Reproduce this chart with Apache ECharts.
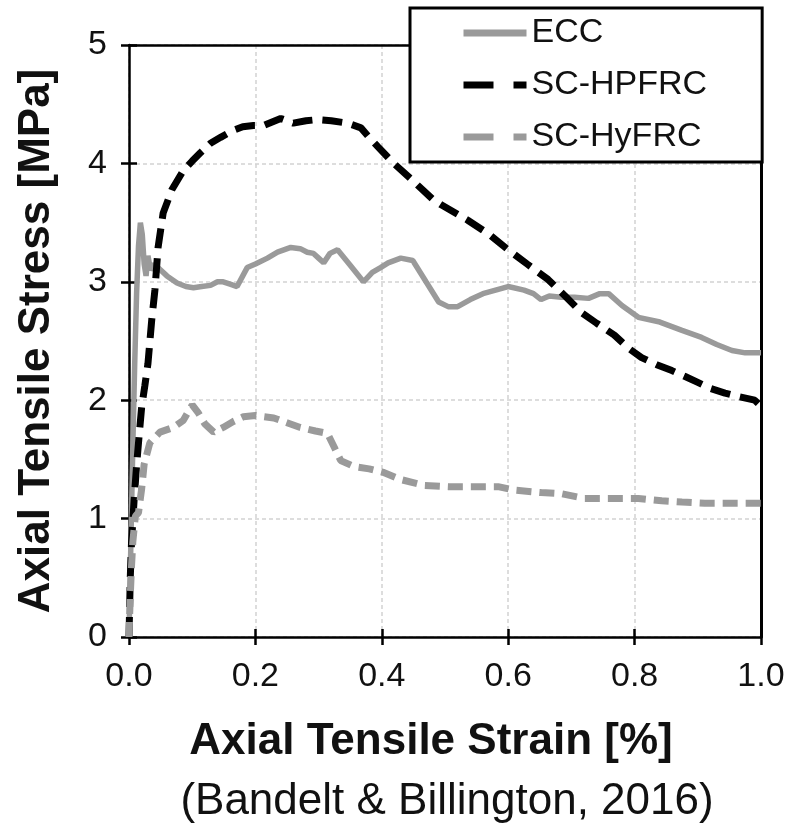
<!DOCTYPE html>
<html>
<head>
<meta charset="utf-8">
<script src="https://cdn.jsdelivr.net/npm/echarts@6/dist/echarts.min.js"></script>
<style>html,body{margin:0;padding:0;background:#fff}#c{width:791px;height:829px}</style>
</head>
<body>
<div id="c"></div>
<script>
// Axial tensile strain [%] vs stress [MPa]
const seriesNames = ['ECC', 'SC-HPFRC', 'SC-HyFRC'];
const xTicks = [0, 0.2, 0.4, 0.6, 0.8, 1.0];
const yTicks = [0, 1, 2, 3, 4, 5];

const eccData = [[0,0],[0.003,0.8],[0.006,1.6],[0.009,2.3],[0.012,2.9],[0.015,3.3],[0.018,3.5],[0.021,3.4],[0.024,3.15],[0.027,3.05],[0.03,3.22],[0.034,3.1],[0.04,3.15],[0.05,3.1],[0.06,3.05],[0.076,2.99],[0.09,2.96],[0.102,2.95],[0.115,2.96],[0.129,2.97],[0.14,3.0],[0.149,3.0],[0.16,2.98],[0.171,2.96],[0.18,3.05],[0.187,3.12],[0.2,3.15],[0.219,3.2],[0.235,3.25],[0.256,3.29],[0.271,3.28],[0.282,3.25],[0.292,3.24],[0.3,3.2],[0.308,3.16],[0.318,3.24],[0.33,3.27],[0.35,3.14],[0.371,3.0],[0.385,3.08],[0.398,3.12],[0.41,3.16],[0.43,3.2],[0.449,3.18],[0.47,3.0],[0.49,2.83],[0.505,2.79],[0.52,2.79],[0.54,2.85],[0.56,2.9],[0.58,2.93],[0.6,2.96],[0.625,2.93],[0.64,2.9],[0.652,2.85],[0.665,2.88],[0.684,2.87],[0.705,2.87],[0.727,2.86],[0.745,2.9],[0.759,2.9],[0.78,2.8],[0.806,2.7],[0.84,2.66],[0.875,2.59],[0.906,2.53],[0.93,2.47],[0.954,2.42],[0.975,2.4],[1.0,2.4]];

const hpfrcData = [[0,0],[0.002,0.5],[0.004,0.8],[0.008,1.15],[0.012,1.45],[0.016,1.7],[0.02,1.94],[0.025,2.12],[0.03,2.31],[0.036,2.68],[0.041,2.93],[0.046,3.29],[0.054,3.58],[0.068,3.78],[0.086,3.94],[0.1,4.02],[0.113,4.09],[0.129,4.17],[0.145,4.22],[0.165,4.28],[0.18,4.31],[0.197,4.32],[0.213,4.32],[0.24,4.38],[0.26,4.34],[0.28,4.36],[0.298,4.37],[0.32,4.36],[0.346,4.34],[0.367,4.3],[0.38,4.22],[0.394,4.14],[0.41,4.05],[0.419,4.0],[0.45,3.85],[0.48,3.7],[0.494,3.65],[0.536,3.52],[0.57,3.4],[0.6,3.27],[0.63,3.15],[0.663,3.02],[0.69,2.88],[0.716,2.74],[0.74,2.65],[0.768,2.55],[0.79,2.44],[0.811,2.36],[0.835,2.3],[0.859,2.25],[0.88,2.2],[0.9,2.15],[0.92,2.1],[0.943,2.06],[0.965,2.03],[0.99,2.0],[1.0,1.95]];

const hyfrcData = [[0,0],[0.002,0.35],[0.004,0.6],[0.006,0.8],[0.01,1.02],[0.015,1.05],[0.02,1.25],[0.024,1.46],[0.033,1.64],[0.049,1.73],[0.07,1.77],[0.086,1.83],[0.1,1.96],[0.11,1.89],[0.12,1.8],[0.134,1.73],[0.149,1.77],[0.165,1.82],[0.181,1.86],[0.2,1.87],[0.229,1.85],[0.25,1.81],[0.271,1.77],[0.295,1.74],[0.314,1.72],[0.325,1.6],[0.335,1.49],[0.356,1.44],[0.38,1.42],[0.403,1.39],[0.43,1.33],[0.467,1.28],[0.505,1.27],[0.541,1.27],[0.584,1.27],[0.61,1.24],[0.652,1.22],[0.684,1.21],[0.721,1.17],[0.768,1.17],[0.806,1.17],[0.843,1.15],[0.875,1.14],[0.911,1.13],[0.954,1.13],[1.0,1.13]];

const xTitle = 'Axial Tensile Strain [%]';
const yTitle = 'Axial Tensile Stress [MPa]';
const caption = '(Bandelt & Billington, 2016)';

const FONT = '"Liberation Sans", Arial, sans-serif';
const GRAY = '#9a9a9a';
const chart = echarts.init(document.getElementById('c'), null, {renderer: 'canvas'});

const rect = {left: 129, right: 30, top: 45, bottom: 192, outerBoundsMode: 'none', containLabel: false};
const xMin = xTicks[0], xMax = xTicks[xTicks.length - 1];
const yMin = yTicks[0], yMax = yTicks[yTicks.length - 1];

const splitLine = {show: true, lineStyle: {color: '#d2d2d2', width: 1.5, type: [4, 3]}};
const tickStyle = {color: '#000', width: 2.5};
const blankAxis = {axisLabel: {show: false}, splitLine: {show: false}};

chart.setOption({
  animation: false,
  backgroundColor: '#fff',
  grid: [Object.assign({show: false}, rect), Object.assign({show: false}, rect)],
  xAxis: [{
    gridIndex: 0, type: 'value', min: xMin, max: xMax, interval: 0.2, position: 'bottom',
    axisLine: {show: true, onZero: false, lineStyle: {color: '#000', width: 2.5}},
    axisTick: {show: true, length: 8, lineStyle: tickStyle},
    axisLabel: {show: true, margin: 23, fontSize: 34, color: '#111', fontFamily: FONT,
      formatter: v => v.toFixed(1)},
    splitLine: splitLine
  }, Object.assign({
    gridIndex: 0, type: 'value', min: xMin, max: xMax, interval: 0.2, position: 'top',
    axisLine: {show: true, onZero: false, lineStyle: {color: '#000', width: 2.5}},
    axisTick: {show: false}
  }, blankAxis), Object.assign({
    gridIndex: 1, type: 'value', min: xMin, max: xMax, interval: 0.2, position: 'bottom',
    axisLine: {show: false, onZero: false},
    axisTick: {show: true, inside: true, length: 8, lineStyle: tickStyle}
  }, blankAxis)],
  yAxis: [{
    gridIndex: 0, type: 'value', min: yMin, max: yMax, interval: 1, position: 'left',
    name: yTitle, nameLocation: 'middle', nameRotate: 90, nameGap: 70,
    nameTextStyle: {fontSize: 44, fontWeight: 'bold', color: '#111', fontFamily: FONT},
    axisLine: {show: true, onZero: false, lineStyle: {color: '#000', width: 2.5}},
    axisTick: {show: true, length: 8, lineStyle: tickStyle},
    axisLabel: {show: true, margin: 22, fontSize: 34, color: '#111', fontFamily: FONT},
    splitLine: splitLine
  }, Object.assign({
    gridIndex: 0, type: 'value', min: yMin, max: yMax, interval: 1, position: 'right',
    axisLine: {show: true, onZero: false, lineStyle: {color: '#000', width: 3}},
    axisTick: {show: false}
  }, blankAxis), Object.assign({
    gridIndex: 1, type: 'value', min: yMin, max: yMax, interval: 1, position: 'left',
    axisLine: {show: false, onZero: false},
    axisTick: {show: true, inside: true, length: 8, lineStyle: tickStyle}
  }, blankAxis)],
  legend: {
    orient: 'vertical', left: 410, top: 8,
    padding: [8, 55, 8, 50], itemGap: 18, itemWidth: 63, itemHeight: 14,
    borderColor: '#000', borderWidth: 3, backgroundColor: '#fff',
    textStyle: {fontSize: 34, color: '#111', fontFamily: FONT},
    lineStyle: {width: 7},
    itemStyle: {opacity: 0},
    data: [
      {name: seriesNames[0], lineStyle: {type: 'solid', width: 7}},
      {name: seriesNames[1], lineStyle: {type: [30, 20], width: 7}},
      {name: seriesNames[2], lineStyle: {type: [30, 20], width: 7}}
    ],
    z: 10
  },
  graphic: [
    {type: 'text', x: 431, y: 742, z: 100,
      style: {text: xTitle, fontSize: 44, fontWeight: 'bold', fontFamily: FONT, fill: '#111',
        align: 'center', verticalAlign: 'middle'}},
    {type: 'text', x: 447, y: 802, z: 100,
      style: {text: caption, fontSize: 44, fontFamily: FONT, fill: '#111',
        align: 'center', verticalAlign: 'middle'}}
  ],
  series: [
    {name: seriesNames[0], type: 'line', xAxisIndex: 0, yAxisIndex: 0, data: eccData, showSymbol: false, symbol: 'none',
      lineStyle: {color: GRAY, width: 5.5}, itemStyle: {color: GRAY}, z: 2},
    {name: seriesNames[1], type: 'line', xAxisIndex: 0, yAxisIndex: 0, data: hpfrcData, showSymbol: false, symbol: 'none',
      lineStyle: {color: '#000', width: 7, type: [20, 10], cap: 'butt'}, itemStyle: {color: '#000'}, z: 3},
    {name: seriesNames[2], type: 'line', xAxisIndex: 0, yAxisIndex: 0, data: hyfrcData, showSymbol: false, symbol: 'none',
      lineStyle: {color: GRAY, width: 7, type: [15, 8], cap: 'butt'}, itemStyle: {color: GRAY}, z: 3}
  ]
});
</script>
</body>
</html>
